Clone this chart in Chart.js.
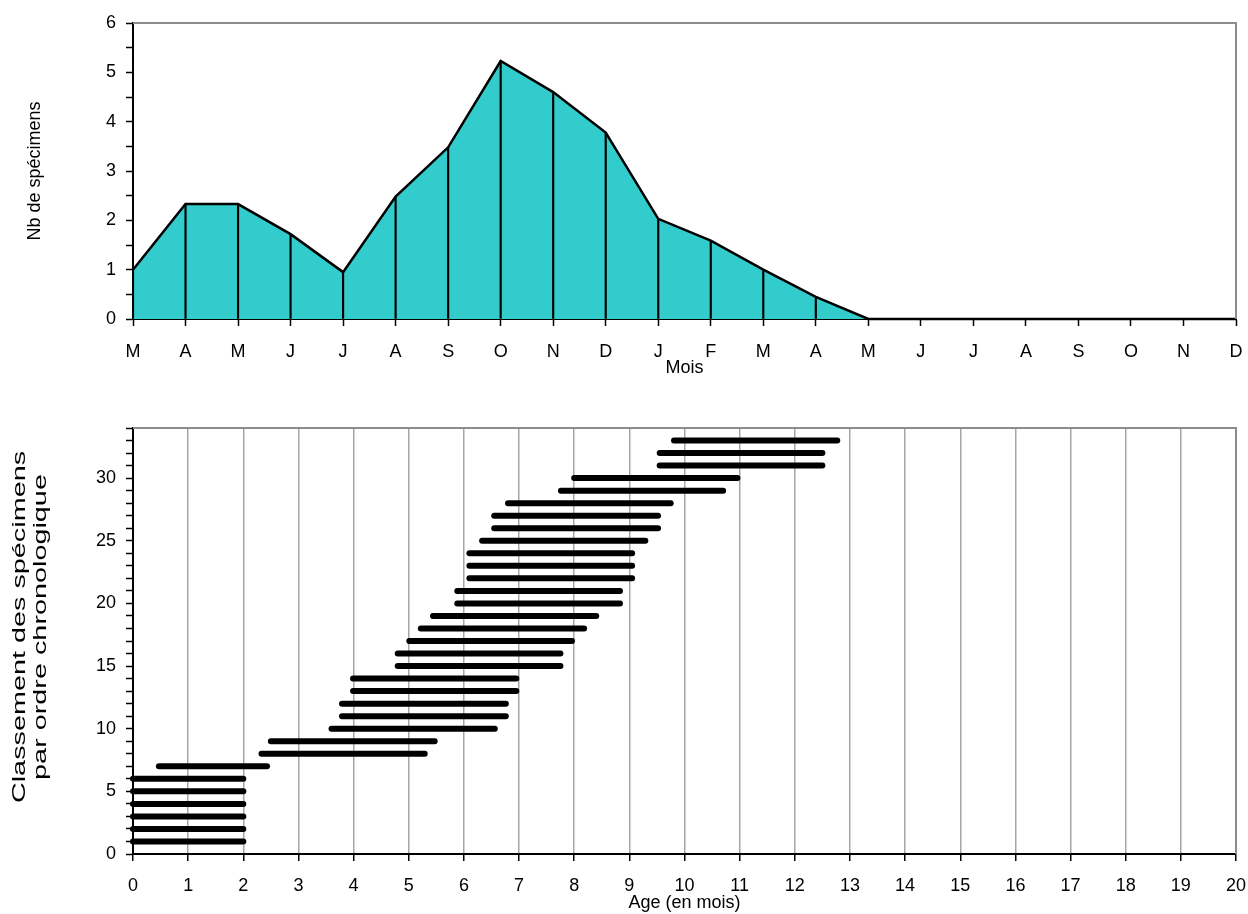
<!DOCTYPE html>
<html>
<head>
<meta charset="utf-8">
<script src="https://cdn.jsdelivr.net/npm/chart.js@4.4.1/dist/chart.umd.min.js"></script>
<style>
  html, body { margin: 0; padding: 0; background: #fff; }
  #haut { position: absolute; left: 0; top: 0; }
  #bas { position: absolute; left: 0; top: 390px; }
</style>
</head>
<body>
<canvas id="haut" width="1248" height="390"></canvas>
<canvas id="bas" width="1248" height="524"></canvas>
<script>
// --- données du graphique du haut (nb de spécimens par mois)
const mois = ['M', 'A', 'M', 'J', 'J', 'A', 'S', 'O', 'N', 'D', 'J', 'F', 'M', 'A', 'M', 'J', 'J', 'A', 'S', 'O', 'N', 'D'];
const nbSpecimens = [1.0, 2.33, 2.33, 1.72, 0.95, 2.48, 3.48, 5.23, 4.6, 3.78, 2.03, 1.59, 1.0, 0.45, 0, 0, 0, 0, 0, 0, 0, 0];
const ticksNb = [0, 0.5, 1, 1.5, 2, 2.5, 3, 3.5, 4, 4.5, 5, 5.5, 6];

// --- données du graphique du bas (durée de vie de chaque spécimen)
const rangs = [1, 2, 3, 4, 5, 6, 7, 8, 9, 10, 11, 12, 13, 14, 15, 16, 17, 18, 19, 20, 21, 22, 23, 24, 25, 26, 27, 28, 29, 30, 31, 32, 33];
const ageDebut = [0, 0, 0, 0, 0, 0, 0.47, 2.33, 2.5, 3.6, 3.79, 3.79, 3.99, 3.99, 4.8, 4.8, 5.01, 5.22, 5.44, 5.88, 5.88, 6.1, 6.1, 6.1, 6.33, 6.55, 6.55, 6.8, 7.76, 8.0, 9.55, 9.55, 9.81];
const ageFin = [2.0, 2.0, 2.0, 2.0, 2.0, 2.0, 2.43, 5.29, 5.47, 6.56, 6.76, 6.76, 6.95, 6.95, 7.75, 7.75, 7.96, 8.18, 8.4, 8.83, 8.83, 9.05, 9.05, 9.05, 9.29, 9.52, 9.52, 9.75, 10.7, 10.96, 12.5, 12.5, 12.77];
const ticksAge = [0, 1, 2, 3, 4, 5, 6, 7, 8, 9, 10, 11, 12, 13, 14, 15, 16, 17, 18, 19, 20];
const ticksRang = [0, 1, 2, 3, 4, 5, 6, 7, 8, 9, 10, 11, 12, 13, 14, 15, 16, 17, 18, 19, 20, 21, 22, 23, 24, 25, 26, 27, 28, 29, 30, 31, 32, 33, 34];
const titreRang = ['Classement des spécimens', 'par ordre chronologique'];

const police = '"Liberation Sans", Arial, sans-serif';
Chart.defaults.font.family = police;
Chart.defaults.font.size = 18;
Chart.defaults.color = '#000';

// cadre gris en haut et à droite de la zone de tracé
const cadre = {
  id: 'cadre',
  afterDatasetsDraw(chart) {
    const { ctx, chartArea: a } = chart;
    ctx.save();
    ctx.strokeStyle = '#8c8c8c';
    ctx.lineWidth = 2;
    ctx.beginPath();
    ctx.moveTo(a.left, a.top);
    ctx.lineTo(a.right, a.top);
    ctx.lineTo(a.right, a.bottom);
    ctx.stroke();
    ctx.restore();
  }
};

// titre vertical étiré (comme dans l'original Excel)
const titreEtire = {
  id: 'titreEtire',
  afterDraw(chart) {
    const { ctx, chartArea: a } = chart;
    const cy = (a.top + a.bottom) / 2 - 14;
    ctx.save();
    ctx.font = '18px ' + police;
    ctx.fillStyle = '#000';
    ctx.textAlign = 'center';
    ctx.textBaseline = 'middle';
    titreRang.forEach((t, i) => {
      ctx.save();
      ctx.translate(20 + i * 21, cy);
      ctx.rotate(-Math.PI / 2);
      ctx.scale(1.6, 1);
      ctx.fillText(t, 0, 0);
      ctx.restore();
    });
    ctx.restore();
  }
};

// 1. graphique du haut
new Chart(document.getElementById('haut'), {
  type: 'line',
  data: {
    labels: mois,
    datasets: [
      {
        data: nbSpecimens,
        borderColor: '#000',
        borderWidth: 2.5,
        backgroundColor: '#33cccc',
        fill: 'origin',
        tension: 0,
        pointRadius: 0,
        order: 0,
        clip: false
      },
      {
        // traits verticaux sous chaque point
        type: 'bar',
        data: nbSpecimens,
        backgroundColor: '#000',
        barThickness: 1.5,
        order: 1
      }
    ]
  },
  options: {
    responsive: false,
    animation: false,
    layout: { padding: { left: 0, top: 23, right: 12, bottom: 11 } },
    plugins: {
      legend: { display: false },
      tooltip: { enabled: false },
      filler: { drawTime: 'beforeDatasetsDraw' }
    },
    scales: {
      x: {
        type: 'category',
        offset: false,
        z: 1,
        grid: { offset: false, drawOnChartArea: false, tickLength: 7, tickColor: '#000', tickWidth: 1.5 },
        border: { color: '#000', width: 2 },
        ticks: { padding: 15, maxRotation: 0, autoSkip: false },
        title: { display: true, text: 'Mois', padding: 0 },
        afterFit(s) { s.height = 60; s.paddingLeft = 0; s.paddingRight = 0; }
      },
      y: {
        min: 0,
        max: 6,
        z: 1,
        afterBuildTicks(s) { s.ticks = ticksNb.map(v => ({ value: v })); },
        ticks: { padding: 10, autoSkip: false, callback: v => Number.isInteger(v) ? v : '' },
        grid: { drawOnChartArea: false, tickLength: 7, tickColor: '#000', tickWidth: 1.5 },
        border: { color: '#000', width: 2 },
        title: { display: true, text: 'Nb de spécimens', padding: { top: 24, bottom: 0 } },
        afterFit(s) { s.width = 133; s.paddingTop = 0; s.paddingBottom = 0; }
      }
    }
  },
  plugins: [cadre]
});

// 2. graphique du bas : un segment par spécimen
new Chart(document.getElementById('bas'), {
  type: 'scatter',
  data: {
    datasets: rangs.map((r, i) => ({
      data: [{ x: ageDebut[i], y: r }, { x: ageFin[i], y: r }],
      showLine: true,
      borderColor: '#000',
      borderWidth: 6,
      borderCapStyle: 'round',
      pointRadius: 0,
      clip: false
    }))
  },
  options: {
    responsive: false,
    animation: false,
    layout: { padding: { left: 0, top: 38, right: 12, bottom: 0 } },
    plugins: { legend: { display: false }, tooltip: { enabled: false } },
    scales: {
      x: {
        type: 'linear',
        min: 0,
        max: 20,
        afterBuildTicks(s) { s.ticks = ticksAge.map(v => ({ value: v })); },
        ticks: { padding: 14, autoSkip: false, maxRotation: 0 },
        grid: { color: '#a6a6a6', lineWidth: 1.5, tickColor: '#000', tickLength: 7, tickWidth: 1.5 },
        border: { color: '#000', width: 2 },
        title: { display: true, text: 'Age (en mois)', padding: 0 },
        afterFit(s) { s.height = 60; s.paddingLeft = 0; s.paddingRight = 0; }
      },
      y: {
        type: 'linear',
        min: 0,
        max: 34,
        afterBuildTicks(s) { s.ticks = ticksRang.map(v => ({ value: v })); },
        ticks: { padding: 10, autoSkip: false, callback: v => v % 5 === 0 ? v : '' },
        grid: { drawOnChartArea: false, tickLength: 7, tickColor: '#000', tickWidth: 1.5 },
        border: { color: '#000', width: 2 },
        afterFit(s) { s.width = 133; s.paddingTop = 0; s.paddingBottom = 0; }
      }
    }
  },
  plugins: [cadre, titreEtire]
});
</script>
</body>
</html>
